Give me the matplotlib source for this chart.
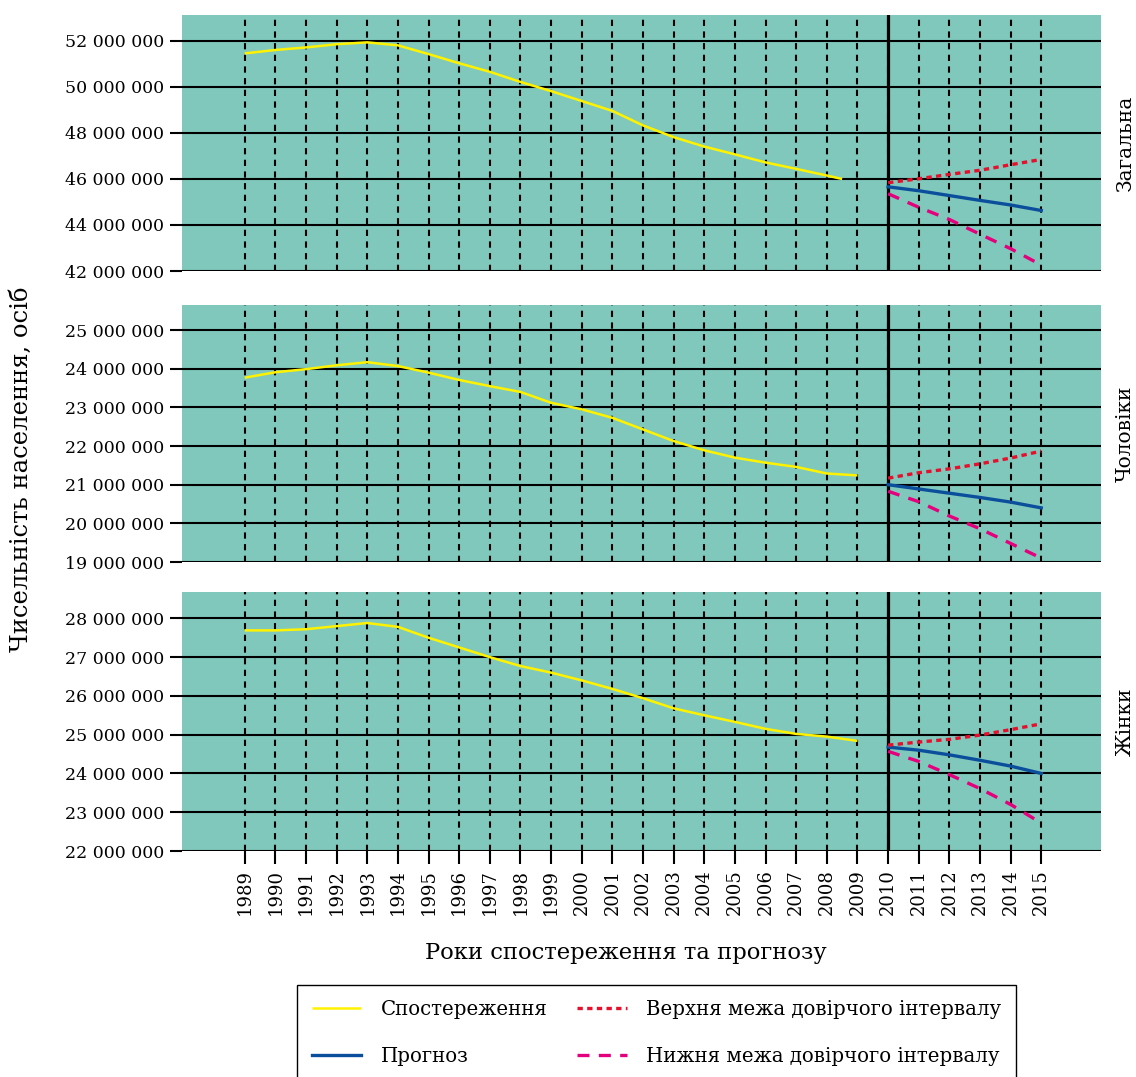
import matplotlib
matplotlib.use("Agg")
import matplotlib.pyplot as plt
from matplotlib.ticker import FuncFormatter, FixedLocator
import numpy as np

plt.rcParams['font.family'] = ['DejaVu Serif']

# ---------------- data (millions of persons) ----------------
years_ticks = list(range(1989, 2016))
obs_years = list(range(1989, 2010))
total_obs_years = list(range(1989, 2009)) + [2008.5]
total_obs = [51.46, 51.61, 51.72, 51.86, 51.94, 51.81, 51.43, 51.03, 50.66, 50.22,
             49.82, 49.39, 48.96, 48.33, 47.82, 47.41, 47.07, 46.72, 46.44, 46.15, 46.00]
male_obs = [23.77, 23.91, 23.99, 24.09, 24.17, 24.07, 23.90, 23.71, 23.55, 23.40,
            23.12, 22.95, 22.73, 22.43, 22.13, 21.89, 21.70, 21.57, 21.46, 21.29, 21.24]
female_obs = [27.69, 27.69, 27.72, 27.80, 27.88, 27.78, 27.50, 27.25, 27.00, 26.77,
              26.60, 26.40, 26.18, 25.94, 25.68, 25.50, 25.33, 25.15, 25.02, 24.95, 24.84]

fc_years = [2010, 2011, 2012, 2013, 2014, 2015]
total_fc = [45.66, 45.49, 45.28, 45.07, 44.87, 44.63]
total_up = [45.84, 46.01, 46.20, 46.38, 46.62, 46.85]
total_lo = [45.36, 44.77, 44.24, 43.60, 42.97, 42.26]
male_fc = [21.00, 20.89, 20.78, 20.67, 20.55, 20.40]
male_up = [21.17, 21.31, 21.41, 21.54, 21.69, 21.87]
male_lo = [20.83, 20.56, 20.19, 19.86, 19.48, 19.10]
female_fc = [24.68, 24.60, 24.48, 24.34, 24.19, 24.00]
female_up = [24.73, 24.81, 24.88, 24.99, 25.13, 25.28]
female_lo = [24.57, 24.31, 23.97, 23.61, 23.20, 22.72]

panel_names = ["Загальна", "Чоловіки", "Жінки"]
y_ticks = [[42, 44, 46, 48, 50, 52], [19, 20, 21, 22, 23, 24, 25], [22, 23, 24, 25, 26, 27, 28]]
y_lims = [(42, 53.13), (19, 25.65), (22, 28.68)]
boundary_year = 2010

legend_labels = ["Спостереження", "Прогноз",
                 "Верхня межа довірчого інтервалу", "Нижня межа довірчого інтервалу"]
ylabel = "Чисельність населення, осіб"
xlabel = "Роки спостереження та прогнозу"

# ---------------- style ----------------
TEAL = "#80c8bc"
YELLOW = "#fff200"
BLUE = "#0b4f9c"
RED = "#e5102c"
PINK = "#e4007c"

W, H = 1136, 1077
fig = plt.figure(figsize=(W / 100, H / 100), dpi=100)

panels_px = [(15, 271), (305, 562), (592, 851)]  # top, bottom in px
left_px, right_px = 182, 1101

series = [
    (total_obs_years, total_obs, total_fc, total_up, total_lo),
    (obs_years, male_obs, male_fc, male_up, male_lo),
    (obs_years, female_obs, female_fc, female_up, female_lo),
]

fmt = FuncFormatter(lambda v, p: f"{v * 1e6:,.0f}".replace(",", " "))

axes = []
for i, (top, bot) in enumerate(panels_px):
    ax = fig.add_axes([left_px / W, 1 - bot / H, (right_px - left_px) / W, (bot - top) / H])
    axes.append(ax)
    ax.set_facecolor(TEAL)
    for s in ax.spines.values():
        s.set_visible(False)
    ax.set_xlim(1986.95, 2016.95)
    ax.set_ylim(*y_lims[i])
    ax.yaxis.set_major_locator(FixedLocator(y_ticks[i]))
    ax.yaxis.set_major_formatter(fmt)
    ax.xaxis.set_major_locator(FixedLocator(years_ticks))
    ax.set_axisbelow(True)
    ax.grid(True, axis='y', color='black', lw=1.5, ls='-')
    ax.grid(True, axis='x', color='black', lw=1.5, ls=(0, (3.0, 2.6)))
    ax.tick_params(axis='y', length=9, width=1.5, color='black', pad=4,
                   labelsize=12.5, direction='out')
    if i < 2:
        ax.tick_params(axis='x', length=0, labelbottom=False)
    else:
        ax.tick_params(axis='x', length=9, width=1.5, color='black', pad=4,
                       labelsize=13, labelrotation=90, direction='out')
    ax.axvline(boundary_year, color='black', lw=2.3, zorder=3)

    oy, ov, fc, up, lo = series[i]
    l_obs, = ax.plot(oy, ov, color=YELLOW, lw=1.8, zorder=4, solid_capstyle='butt')
    l_fc, = ax.plot(fc_years, fc, color=BLUE, lw=2.4, zorder=5)
    l_up, = ax.plot(fc_years, up, color=RED, lw=2.4, ls=(0, (1.6, 1.3)), zorder=5)
    l_lo, = ax.plot(fc_years, lo, color=PINK, lw=2.4, ls=(0, (3.6, 2.8)), zorder=5)
    ax.text(1.026, 0.5, panel_names[i], transform=ax.transAxes, rotation=90,
            ha='center', va='center', fontsize=14.5)

fig.text(21 / W, 1 - 469 / H, ylabel, rotation=90, ha='center', va='center', fontsize=17.5)
fig.text(626 / W, 1 - 953 / H, xlabel, ha='center', va='center', fontsize=16.3)

leg = fig.legend([l_obs, l_fc, l_up, l_lo], legend_labels, ncol=2,
                 loc='upper left', bbox_to_anchor=(297 / W, 1 - 985 / H),
                 bbox_transform=fig.transFigure, borderaxespad=0,
                 frameon=True, fancybox=False, edgecolor='black', framealpha=1,
                 fontsize=14.2, handlelength=2.5, handletextpad=1.0,
                 columnspacing=1.5, labelspacing=1.45, borderpad=0.75)
leg.get_frame().set_linewidth(1.0)

fig.savefig("out.png", dpi=100)
